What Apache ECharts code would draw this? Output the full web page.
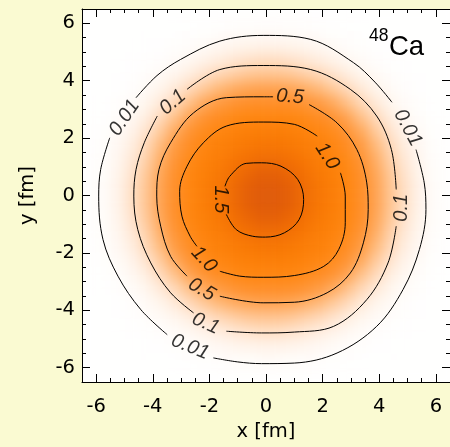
<!DOCTYPE html>
<html><head><meta charset="utf-8">
<script src="https://cdn.jsdelivr.net/npm/echarts@6/dist/echarts.min.js"></script>
<style>
html,body{margin:0;padding:0;width:450px;height:447px;overflow:hidden;background:#fafad2;}
#heatwrap{position:absolute;left:82px;top:9px;width:373px;height:373px;overflow:hidden;background:#fff;}
#heat{width:373px;height:373px;filter:blur(6px);}
#main{position:absolute;left:0;top:0;width:450px;height:447px;}
</style></head><body>
<div id="heatwrap"><div id="heat"></div></div>
<div id="main"></div>
<script>
// ---- data ----
const majorTicks = [-6, -4, -2, 0, 2, 4, 6];
// cell centres (fm) of one quadrant of the density map
const quadrantCenters = [0.25, 0.75, 1.25, 1.75, 2.25, 2.75, 3.25, 3.75, 4.25, 4.75, 5.25, 5.75, 6.25];
// relative density in one quadrant, rows |y|, columns |x|
const densityQuadrant = [
 [1.74, 1.67, 1.53, 1.38, 1.24, 1.05, 0.77, 0.47, 0.22, 0.09, 0.033, 0.011, 0.0035],
 [1.67, 1.59, 1.47, 1.34, 1.20, 1.03, 0.74, 0.44, 0.20, 0.08, 0.030, 0.010, 0.003],
 [1.53, 1.47, 1.38, 1.27, 1.15, 0.95, 0.66, 0.38, 0.16, 0.065, 0.025, 0.008, 0.003],
 [1.38, 1.34, 1.27, 1.19, 1.05, 0.82, 0.56, 0.29, 0.12, 0.05, 0.019, 0.006, 0.002],
 [1.24, 1.20, 1.15, 1.05, 0.88, 0.66, 0.41, 0.19, 0.08, 0.033, 0.012, 0.004, 0.002],
 [1.05, 1.03, 0.95, 0.82, 0.66, 0.46, 0.24, 0.11, 0.05, 0.02, 0.007, 0.003, 0.001],
 [0.77, 0.74, 0.66, 0.56, 0.41, 0.24, 0.12, 0.06, 0.027, 0.011, 0.004, 0.002, 0.001],
 [0.47, 0.44, 0.38, 0.29, 0.19, 0.11, 0.06, 0.03, 0.014, 0.0055, 0.002, 0.001, 0.001],
 [0.22, 0.20, 0.16, 0.12, 0.08, 0.05, 0.027, 0.014, 0.006, 0.003, 0.0015, 0.001, 0.001],
 [0.09, 0.08, 0.065, 0.05, 0.033, 0.02, 0.011, 0.0055, 0.003, 0.0015, 0.001, 0.001, 0.001],
 [0.033, 0.030, 0.025, 0.019, 0.012, 0.007, 0.004, 0.002, 0.0015, 0.001, 0.001, 0.001, 0.001],
 [0.011, 0.010, 0.008, 0.006, 0.004, 0.003, 0.002, 0.001, 0.001, 0.001, 0.001, 0.001, 0.001],
 [0.0035, 0.003, 0.003, 0.002, 0.002, 0.001, 0.001, 0.001, 0.001, 0.001, 0.001, 0.001, 0.001]
];
// contour lines (x, y in fm), split where the labels sit
const contour001 = [
 [[-4.59,3.41],[-3.85,4.18],[-3.02,4.74],[-1.63,5.38],[-0.1,5.58],[1.58,5.44],[3.09,4.63],[3.85,3.95],[4.45,3.25]],
 [[5.30,1.6],[5.59,0.44],[5.65,-0.49],[5.42,-1.88],[4.84,-3.28],[3.91,-4.56],[2.51,-5.49],[1.0,-5.84],[-0.16,-5.86],[-1.0,-5.8],[-1.86,-5.66]],
 [[-3.49,-4.85],[-4.42,-3.98],[-5.23,-2.81],[-5.76,-1.53],[-5.91,-0.02],[-5.84,0.91],[-5.52,2.01]]
];
const contour01 = [
 [[-2.79,3.70],[-1.63,4.39],[-0.1,4.53],[1.58,4.39],[2.98,3.70],[3.91,2.77],[4.43,1.6],[4.60,0.21]],
 [[4.60,-1.07],[4.31,-2.35],[3.56,-3.63],[2.39,-4.56],[1.0,-4.76],[-0.16,-4.79],[-1.40,-4.73]],
 [[-2.56,-4.09],[-3.37,-3.39],[-4.07,-2.35],[-4.53,-1.19],[-4.67,-0.02],[-4.59,0.91],[-4.30,1.84],[-3.84,2.77]]
];
const contour05 = [
 [[1.52,3.17],[2.51,2.53],[3.21,1.60],[3.56,0.44],[3.61,-0.49],[3.44,-1.65],[2.98,-2.70],[2.16,-3.39],[1.0,-3.72],[-0.1,-3.74],[-1.63,-3.51]],
 [[-2.79,-2.81],[-3.37,-2.12],[-3.72,-1.07],[-3.86,-0.02],[-3.78,0.91],[-3.37,1.84],[-2.56,2.88],[-1.40,3.41],[-0.1,3.44],[0.25,3.44]]
];
const contour10 = [
 [[2.63,0.79],[2.80,-0.02],[2.80,-0.95],[2.57,-1.88],[2.04,-2.47],[1.0,-2.79],[-0.1,-2.85],[-0.93,-2.81],[-1.63,-2.64]],
 [[-2.44,-1.77],[-2.68,-1.42],[-2.97,-0.72],[-3.05,0.15],[-2.79,1.02],[-2.21,1.84],[-1.40,2.42],[-0.1,2.56],[1.0,2.48],[1.81,2.07]]
];
const contour15 = [
 [[-1.40,-0.66],[-1.05,-1.19],[-0.47,-1.42],[-0.02,-1.45],[0.65,-1.30],[1.17,-0.84],[1.33,-0.14],[1.12,0.56],[0.53,1.02],[-0.16,1.14],[-0.70,1.12],[-1.28,0.67],[-1.45,0.32]]
];
// contour labels: text, x, y, rotation
const labelText = ['0.01','0.01','0.01','0.1','0.1','0.1','0.5','0.5','1.0','1.0','1.5'];
const labelX    = [-5.0, 5.01, -2.68, -3.29, 4.78, -2.13, 0.85, -2.27, 2.16, -2.19, -1.62];
const labelY    = [2.71, 2.36, -5.28, 3.25, -0.43, -4.46, 3.44, -3.28, 1.37, -2.23, -0.14];
const labelRot  = [56, -62, -22, 41, 90, -24, -5, -30, -57, -47, -90];

const FONT = "'Liberation Sans', Arial, sans-serif";
const AXFONT = "'DejaVu Sans', Verdana, sans-serif";

// ---- heat map layer ----
const fullCenters = quadrantCenters.slice().reverse().map(v => -v).concat(quadrantCenters);
const n = quadrantCenters.length;
const idx = k => (k < n ? n - 1 - k : k - n);
const heatData = [];
for (let k = 0; k < fullCenters.length; k++) {
  for (let m = 0; m < fullCenters.length; m++) {
    heatData.push([m, k, densityQuadrant[idx(k)][idx(m)]]);
  }
}
const heat = echarts.init(document.getElementById('heat'), null, {renderer: 'canvas'});
heat.setOption({
  animation: false,
  backgroundColor: 'transparent',
  grid: {left: 0, right: 0, top: 0, bottom: 0},
  xAxis: {type: 'category', data: fullCenters.map(String), show: false},
  yAxis: {type: 'category', data: fullCenters.map(String), show: false},
  visualMap: {show: false, min: 0, max: 1.8, dimension: 2,
    inRange: {color: ['#ffffff','#ffdcc0','#ffc898','#ffb878','#ffab60','#ffa04c','#ff983c','#ff9230','#ff8e26',
      '#ff8b1c','#ff8814','#fe840e','#fc8009','#fa7b06','#f67504','#f16e04','#ea6606','#e35e08','#dc560c']}},
  series: [{type: 'heatmap', data: heatData, itemStyle: {borderWidth: 0}, emphasis: {disabled: true}, progressive: 0}]
});

// ---- axes, contours, labels ----
const axBase = {type: 'value', min: -6.5, max: 6.5, splitLine: {show: false}};
const lineSt = {color: '#000', width: 1};
function majorAxis(pos, withLabel, name, nameGap) {
  const a = Object.assign({}, axBase, {
    position: pos,
    axisLine: {show: true, onZero: false, lineStyle: lineSt},
    axisTick: {show: true, inside: true, length: 8, customValues: majorTicks, lineStyle: lineSt},
    axisLabel: {show: withLabel, customValues: majorTicks, fontSize: 19.5, color: '#000', fontFamily: AXFONT,
      margin: (pos === 'bottom' ? 15 : 7)}
  });
  if (name) {
    a.name = name; a.nameLocation = 'middle'; a.nameGap = nameGap;
    a.nameTextStyle = {fontSize: 19.5, color: '#000', fontFamily: AXFONT};
  }
  return a;
}
function minorAxis(pos) {
  return Object.assign({}, axBase, {
    position: pos, interval: 0.5,
    axisLine: {show: false, onZero: false},
    axisTick: {show: true, inside: true, length: 4, lineStyle: lineSt},
    axisLabel: {show: false}
  });
}
const series = [];
[contour001, contour01, contour05, contour10, contour15].forEach(c => {
  c.forEach(seg => {
    series.push({type: 'line', data: seg, smooth: 0.35, symbol: 'none', showSymbol: false,
      lineStyle: {color: '#000', width: 1}, silent: true, xAxisIndex: 0, yAxisIndex: 0});
  });
});
series.push({
  type: 'scatter', xAxisIndex: 0, yAxisIndex: 0, symbolSize: 1, itemStyle: {color: 'rgba(0,0,0,0)'}, silent: true,
  data: labelText.map((t, i) => ({value: [labelX[i], labelY[i]],
    label: {show: true, formatter: t, rotate: labelRot[i]}})),
  label: {show: true, position: 'inside', fontSize: 20, fontStyle: 'italic', color: '#000', fontFamily: FONT,
    align: 'center', verticalAlign: 'middle'}
});

const chart = echarts.init(document.getElementById('main'), null, {renderer: 'canvas'});
chart.setOption({
  animation: false,
  backgroundColor: 'transparent',
  grid: {left: 82, top: 9, width: 373, height: 373},
  xAxis: [majorAxis('bottom', true, 'x [fm]', 40), minorAxis('bottom'), majorAxis('top', false), minorAxis('top')],
  yAxis: [majorAxis('left', true, 'y [fm]', 44), minorAxis('left'), majorAxis('right', false), minorAxis('right')],
  graphic: [
    {type: 'text', left: 369, top: 27, style: {text: '48', fontSize: 17.5, fill: '#000', fontFamily: FONT}},
    {type: 'text', left: 389, top: 33, style: {text: 'Ca', fontSize: 27.5, fill: '#000', fontFamily: FONT}}
  ],
  series: series
});
</script>
</body></html>
